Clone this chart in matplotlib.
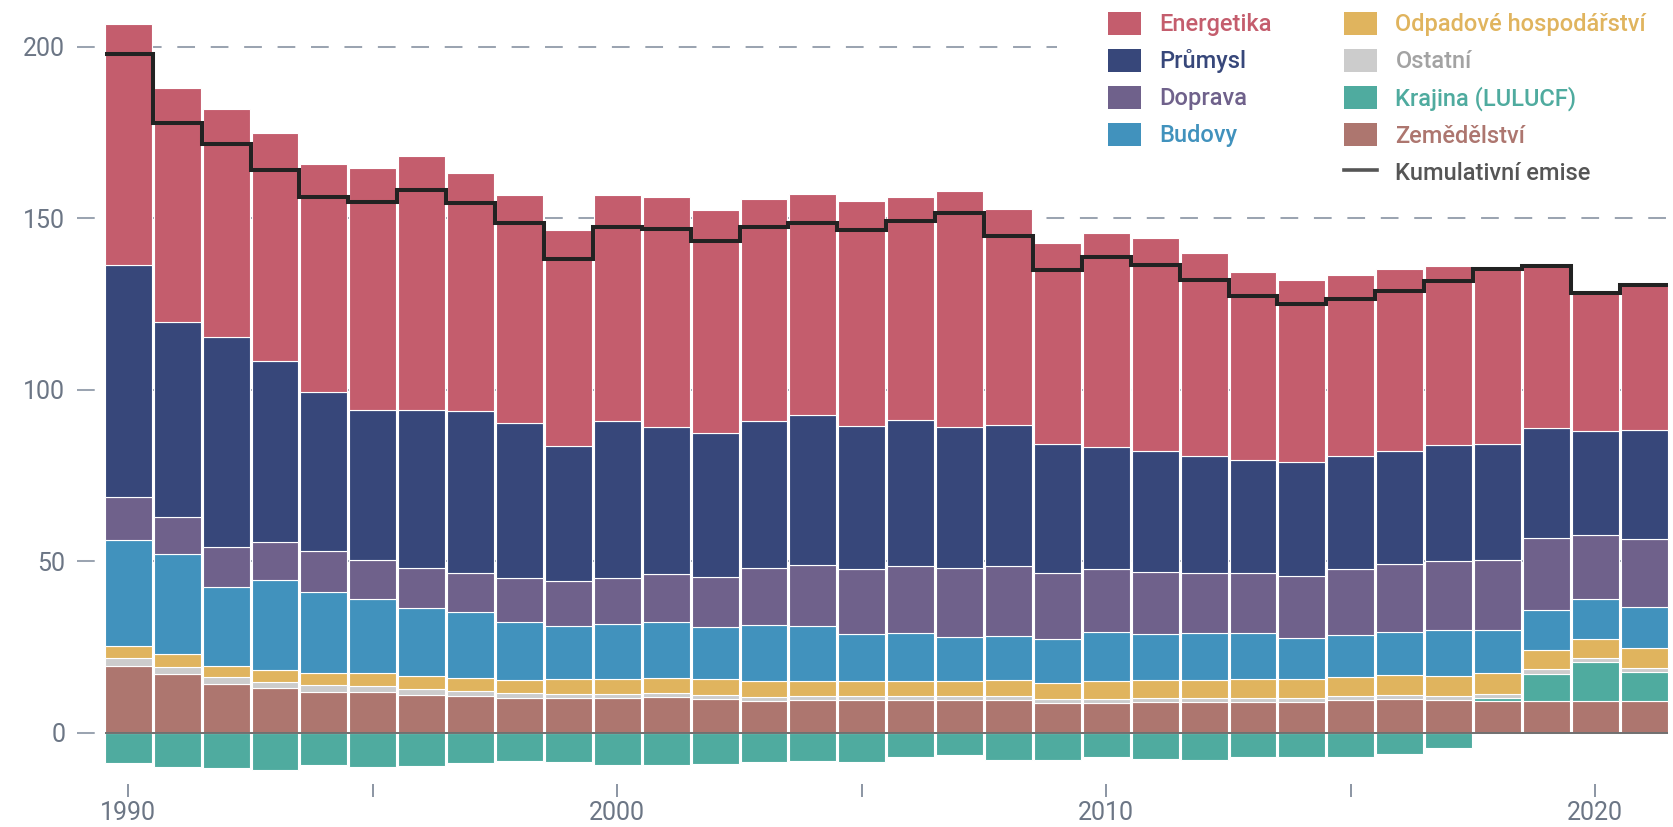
import numpy as np
import matplotlib
matplotlib.use("Agg")
import matplotlib.pyplot as plt
from matplotlib.patches import Patch
from matplotlib.lines import Line2D

plt.rcParams['font.family'] = ['Roboto', 'DejaVu Sans']

# ---------------- data ----------------
years = list(range(1990, 2022))

zemedelstvi = [19.4, 17.2, 14.1, 12.9, 12.0, 11.8, 11.1, 10.6, 10.0, 10.0,
               10.1, 10.3, 9.7, 9.1, 9.4, 9.4, 9.4, 9.4, 9.4, 8.6,
               8.6, 9.0, 9.0, 9.0, 9.0, 9.6, 9.9, 9.6, 9.3, 9.3, 9.1, 9.2]
krajina = [-8.7, -10.1, -10.3, -10.8, -9.5, -9.9, -9.7, -8.7, -8.3, -8.5,
           -9.4, -9.4, -9.0, -8.4, -8.3, -8.4, -7.1, -6.6, -7.9, -7.9,
           -7.2, -7.7, -7.9, -7.1, -7.1, -7.0, -6.2, -4.4, 0.8, 7.9, 11.5, 8.4]
ostatni = [2.5, 2.1, 2.0, 1.9, 1.8, 1.8, 1.7, 1.6, 1.6, 1.4,
           1.3, 1.2, 1.4, 1.3, 1.3, 1.3, 1.3, 1.3, 1.3, 1.3,
           1.2, 1.2, 1.2, 1.2, 1.2, 1.2, 1.1, 1.2, 1.2, 1.3, 1.3, 1.3]
odpady = [3.3, 3.5, 3.4, 3.6, 3.7, 3.8, 3.8, 3.7, 3.8, 4.2,
          4.4, 4.5, 4.5, 4.6, 4.4, 4.4, 4.4, 4.4, 4.6, 4.6,
          5.2, 5.3, 5.3, 5.4, 5.5, 5.5, 5.7, 5.8, 6.0, 5.7, 5.5, 5.9]
budovy = [31.0, 29.4, 23.0, 26.1, 23.5, 21.6, 19.8, 19.2, 17.0, 15.6,
          15.9, 16.4, 15.1, 16.5, 16.1, 13.6, 14.1, 12.7, 13.0, 12.8,
          14.3, 13.3, 13.5, 13.6, 11.8, 12.2, 12.8, 13.4, 12.6, 11.7, 11.6, 11.8]
doprava = [12.4, 10.8, 11.6, 11.1, 11.9, 11.3, 11.5, 11.4, 12.6, 12.9,
           13.3, 13.9, 14.6, 16.6, 17.7, 19.1, 19.3, 20.2, 20.2, 19.4,
           18.3, 18.1, 17.6, 17.4, 18.1, 19.1, 19.7, 20.1, 20.5, 20.9, 18.6, 20.0]
prumysl = [67.8, 56.8, 61.4, 52.8, 46.5, 43.7, 46.1, 47.2, 45.2, 39.4,
           45.9, 42.8, 42.0, 42.8, 43.6, 41.7, 42.7, 41.1, 41.2, 37.5,
           35.8, 35.1, 34.1, 32.9, 33.4, 33.0, 32.8, 33.8, 33.7, 32.1, 30.5, 31.7]
energetika = [70.2, 68.1, 66.3, 66.5, 66.3, 70.7, 74.0, 69.5, 66.6, 63.1,
              66.0, 67.2, 65.1, 64.8, 64.5, 65.5, 65.1, 68.9, 62.9, 58.7,
              62.4, 62.1, 59.1, 54.8, 53.0, 52.9, 53.1, 52.2, 51.2, 47.3, 40.1, 42.3]

labels_col1 = ["Energetika", "Průmysl", "Doprava", "Budovy"]
labels_col2 = ["Odpadové hospodářství", "Ostatní", "Krajina (LULUCF)",
               "Zemědělství", "Kumulativní emise"]
y_ticks = [0, 50, 100, 150, 200]
x_ticks = [1990, 1995, 2000, 2005, 2010, 2015, 2020]
x_ticklabels = ["1990", "", "2000", "", "2010", "", "2020"]

# ---------------- style ----------------
C = {
    "Energetika": "#c45d6d",
    "Průmysl": "#37477a",
    "Doprava": "#6f618b",
    "Budovy": "#4192bd",
    "Odpadové hospodářství": "#e0b45e",
    "Ostatní": "#cccccc",
    "Krajina (LULUCF)": "#4fab9f",
    "Zemědělství": "#ad766f",
}
TXT = dict(C)
TXT["Ostatní"] = "#a3a3a3"
GRID = "#9ba4b1"
TICK = "#6c7685"

W, H = 1673, 827
fig = plt.figure(figsize=(W / 100, H / 100), dpi=100)
ax_l, ax_r, ax_t, ax_b = 77, 1673, 0, 784
ax = fig.add_axes([ax_l / W, 1 - ax_b / H, (ax_r - ax_l) / W, (ax_b - ax_t) / H])

x0px, pxyr = 128.3, 48.9
y0px, pxu = 732.7, 3.43
ax.set_xlim(1990 + (ax_l - x0px) / pxyr, 1990 + (ax_r - x0px) / pxyr)
ax.set_ylim((y0px - ax_b) / pxu, (y0px - ax_t) / pxu)

# dashed gridlines
dash = (0, (8.8, 7.8))
for v in y_ticks:
    xmax = (1057 - ax_l) / (ax_r - ax_l) if v == 200 else 1
    ax.axhline(v, xmin=0, xmax=xmax, color=GRID, lw=1.45, ls=dash, zorder=0)

# stacked bars (positive parts stack upward, negative parts downward)
x = np.array(years, dtype=float)
stack = [
    ("Zemědělství", zemedelstvi),
    ("Krajina (LULUCF)", krajina),
    ("Ostatní", ostatni),
    ("Odpadové hospodářství", odpady),
    ("Budovy", budovy),
    ("Doprava", doprava),
    ("Průmysl", prumysl),
    ("Energetika", energetika),
]
bw = 0.96
pos = np.zeros(len(x))
neg = np.zeros(len(x))
net = np.zeros(len(x))
for name, vals in stack:
    v = np.array(vals, dtype=float)
    bottom = np.where(v >= 0, pos, neg)
    ax.bar(x, v, bottom=bottom, width=bw, color=C[name],
           edgecolor="white", linewidth=0.8, zorder=2)
    pos = pos + np.where(v >= 0, v, 0)
    neg = neg + np.where(v < 0, v, 0)
    net = net + v

# zero line across the bars
ax.hlines(0, x[0] - bw / 2, x[-1] + bw / 2, color="#707070", lw=1.4, zorder=3)

# net total as a step line
edges = np.concatenate([[x[0] - bw / 2], (x[:-1] + x[1:]) / 2, [x[-1] + bw / 2]])
ax.stairs(net, edges, color="#222222", lw=2.9, zorder=4, baseline=None)

for s in ax.spines.values():
    s.set_visible(False)
ax.set_yticks(y_ticks)
ax.set_yticklabels([str(t) for t in y_ticks])
ax.set_xticks(x_ticks)
ax.set_xticklabels(x_ticklabels)
ax.tick_params(axis="y", length=0, pad=8.5, labelsize=18, labelcolor=TICK)
ax.tick_params(axis="x", length=9.4, width=1.4, color="#8b95a3", direction="out",
               pad=3, labelsize=18, labelcolor=TICK)

# legends (two columns)
fs = 17
h1 = [Patch(facecolor=C[n], edgecolor="none") for n in labels_col1]
h2 = [Patch(facecolor=C[n], edgecolor="none") for n in labels_col2[:4]]
h2.append(Line2D([], [], color="#555555", lw=2.6))
common = dict(frameon=False, borderpad=0, borderaxespad=0,
              handlelength=1.40, handleheight=1.10, handletextpad=0.78,
              labelspacing=0.535, loc="upper left", bbox_transform=fig.transFigure,
              prop={"family": ["Roboto", "DejaVu Sans"], "weight": "medium", "size": fs})
leg1 = ax.legend(h1, labels_col1, bbox_to_anchor=(1108 / W, 1 - 12 / H),
                 labelcolor=[TXT[n] for n in labels_col1], **common)
ax.add_artist(leg1)
leg2 = ax.legend(h2, labels_col2, bbox_to_anchor=(1344 / W, 1 - 12 / H),
                 labelcolor=[TXT[n] for n in labels_col2[:4]] + ["#555555"], **common)

fig.savefig("out.png", dpi=100)
